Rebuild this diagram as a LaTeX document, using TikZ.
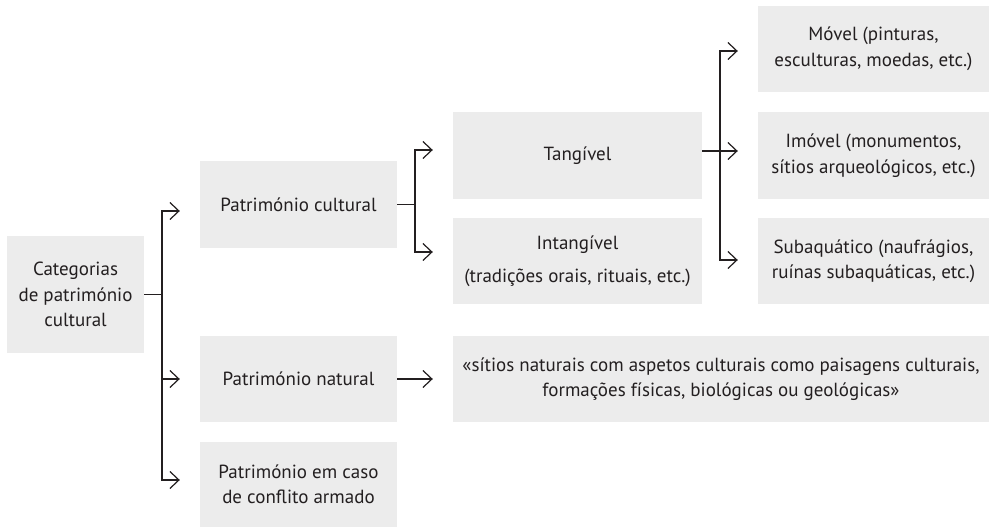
\documentclass[tikz,border=0pt]{standalone}
\usepackage{fontspec}
\setmainfont{PT Sans}
\usetikzlibrary{arrows.meta}
\definecolor{boxfill}{RGB}{236,236,236}
\definecolor{ink}{RGB}{35,31,32}
\begin{document}
\begin{tikzpicture}[x=1pt,y=-1pt,
  box/.style={fill=boxfill, inner sep=0pt, align=center, text=ink,
              font=\fontsize{19}{25.5}\selectfont},
  conn/.style={draw=ink, line width=1.2pt},
  arr/.style={conn, -{Straight Barb[length=9pt,width=17pt]}, shorten >=20pt}]
\useasboundingbox (0,0) rectangle (989,527);

% boxes
\node[box, minimum width=137pt, minimum height=117pt] (cat) at (75.5,294.5) {Categorias\\de património\\cultural};
\node[box, minimum width=197pt, minimum height=87pt] (pc) at (298.5,204.5) {Património cultural};
\node[box, minimum width=197pt, minimum height=86pt] (pn) at (298.5,379) {Património natural};
\node[box, minimum width=197pt, minimum height=85pt] (pa) at (298.5,484.5) {Património em caso\\de conflito armado};
\node[box, minimum width=249pt, minimum height=87pt] (tan) at (577.5,155.5) {Tangível};
\node[box, minimum width=249pt, minimum height=86pt, font=\fontsize{19}{33}\selectfont] (int) at (577.5,261) {Intangível\\(tradições orais, rituais, etc.)};
\node[box, minimum width=231pt, minimum height=86pt] (mov) at (873.5,49) {Móvel (pinturas,\\esculturas, moedas, etc.)};
\node[box, minimum width=231pt, minimum height=87pt] (imo) at (873.5,155.5) {Imóvel (monumentos,\\sítios arqueológicos, etc.)};
\node[box, minimum width=231pt, minimum height=86pt] (sub) at (873.5,261) {Subaquático (naufrágios,\\ruínas subaquáticas, etc.)};
\node[box, minimum width=536pt, minimum height=86pt] (quo) at (721,379) {«sítios naturais com aspetos culturais como paisagens culturais,\\formações físicas, biológicas ou geológicas»};

% junctions
\coordinate (a0) at (162,294.5);
\coordinate (a1) at (162,211);
\coordinate (a2) at (162,379);
\coordinate (a3) at (162,480);
\coordinate (b0) at (415,204.5);
\coordinate (b1) at (415,150);
\coordinate (b2) at (415,252);
\coordinate (c1) at (720,51);
\coordinate (c2) at (720,151);
\coordinate (c3) at (720,260);

% connectors
\draw[conn] (cat.east) -- (a0);
\draw[arr] (a3) -- (a1) -- (pc.west |- a1);
\draw[arr] (a1) -- (a3) -- (pa.west |- a3);
\draw[arr] (a2) -- (pn.west |- a2);

\draw[conn] (pc.east) -- (b0);
\draw[arr] (b2) -- (b1) -- (tan.west |- b1);
\draw[arr] (b1) -- (b2) -- (int.west |- b2);

\draw[arr] (tan.east |- c2) -- (imo.west |- c2);
\draw[arr] (c3) -- (c1) -- (mov.west |- c1);
\draw[arr] (c1) -- (c3) -- (sub.west |- c3);

\draw[arr] (pn) -- (quo);
\end{tikzpicture}
\end{document}
